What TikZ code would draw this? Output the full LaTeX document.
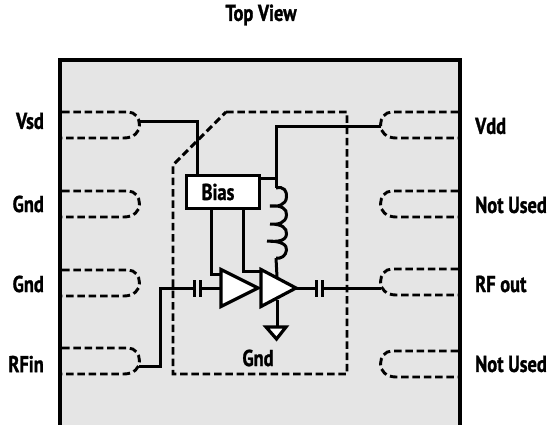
\documentclass[tikz,border=0pt]{standalone}
\usepackage{fontspec}
\setmainfont[BoldFont={PT Sans Bold},BoldFeatures={FakeStretch=0.8,FakeBold=1.2}]{PT Sans}
\definecolor{pkg}{HTML}{E5E5E5}
\tikzset{
  wire/.style={line width=3pt,line join=miter},
  dash line/.style={line width=2.9pt,dash pattern=on 7.5pt off 3.8pt},
  lbl/.style={font=\fontsize{23}{25}\selectfont\bfseries,inner sep=0pt},
  ll/.style={lbl,anchor=east},
  rl/.style={lbl,anchor=west},
  amp/.style={wire,fill=white,line width=3.2pt}
}
\newcommand{\leftpad}[1]{\draw[dash line] (62,#1) -- (128,#1) .. controls (135,#1) and (139.5,#1+6) .. (139.5,#1+13) .. controls (139.5,#1+20) and (134,#1+26) .. (124,#1+26) -- (62,#1+26);}
\newcommand{\rightpad}[1]{\draw[dash line] (458,#1) -- (392,#1) .. controls (385,#1) and (380.5,#1+6) .. (380.5,#1+13) .. controls (380.5,#1+20) and (386,#1+26) .. (396,#1+26) -- (458,#1+26);}
\begin{document}
\begin{tikzpicture}[x=1pt,y=-1pt]
\useasboundingbox (0,0) rectangle (552,425);
\fill[pkg] (60,60) rectangle (460,425);
\draw[line width=4pt] (60,425) -- (60,60) -- (460,60) -- (460,425);
% pads
\leftpad{112}\leftpad{191}\leftpad{270}\leftpad{348}
\rightpad{112}\rightpad{191}\rightpad{269}\rightpad{351}
% dashed outline
\draw[dash line] (226,112) -- (347,112) -- (347,374) -- (173,374) -- (173,165) -- cycle;
% coordinates
\coordinate (vsdpad) at (139,122);
\coordinate (vsdturn) at (197,122);
\coordinate (vddpad) at (381,127);
\coordinate (vddturn) at (276,127);
\coordinate (rfinpad) at (139,366);
\coordinate (rfinturn) at (160,366);
\coordinate (rfinup) at (160,288);
\coordinate (c1a) at (194,288);
\coordinate (c1b) at (200,288);
\coordinate (a1in) at (221,288);
\coordinate (a1tip) at (258,288);
\coordinate (a2in) at (261,288);
\coordinate (a2tip) at (296,288);
\coordinate (c2a) at (316,288);
\coordinate (c2b) at (322,288);
\coordinate (rfoutpad) at (381,288);
\coordinate (coiltop) at (276,188);
\coordinate (coilbot) at (276,258);
\coordinate (a2top) at (277,277);
\coordinate (a2bot) at (277,300);
\coordinate (gndtop) at (277,327);
% bias
\node[draw,wire,fill=white,minimum width=73pt,minimum height=33pt,inner sep=0pt] (bias) at (222.5,192) {};
\node[lbl] (biaslabel) at (218,192) {Bias};
% wires
\draw[wire] (vsdpad) -- (vsdturn) -- (vsdturn |- bias.north);
\draw[wire] (vddpad) -- (vddturn) -- (coiltop);
\draw[wire] (bias.east |- 0,179) -- (276,179);
\draw[wire] (rfinpad) -- (rfinturn) -- (rfinup) -- (c1a);
\draw[wire] (c1b) -- (a1in);
\draw[wire] (a2tip) -- (c2a);
\draw[wire] (c2b) -- (rfoutpad);
\draw[wire] (211,209) -- (211,274) -- (221,274);
\draw[wire] (243,209) -- (243,271) -- (261,271);
\draw[wire] (coilbot) -- (a2top);
\draw[wire] (a2bot) -- (gndtop);
% coil
\draw[wire] (coiltop) .. controls (284,186) and (287,191) .. (286.5,197)
  .. controls (286,205) and (278,207) .. (270,206)
  (270,206) .. controls (282,205) and (287,209) .. (286.5,215)
  .. controls (286,223) and (278,225) .. (270,224)
  (270,224) .. controls (282,224) and (287,228) .. (286.5,234)
  .. controls (286,241) and (278,242) .. (267,241)
  (267,241) .. controls (282,241) and (287,245) .. (286.5,250)
  .. controls (286,256) and (281,259) .. (276,258);
% caps
\draw[wire] (194,280) -- (194,297);
\draw[wire] (200,280) -- (200,297);
\draw[wire] (316,280) -- (316,297);
\draw[wire] (322,280) -- (322,297);
% amplifiers
\draw[amp] (221,269.5) -- (258,288) -- (221,306.5) -- cycle;
\draw[amp] (261,269.5) -- (296,288) -- (261,306.5) -- cycle;
% ground
\draw[amp] (266,327) -- (286,327) -- (276.5,339) -- cycle;
% labels
\node[lbl] (top) at (261,15) {Top View};
\node[ll] (l1) at (44,121) {Vsd};
\node[ll] (l2) at (44,204) {Gnd};
\node[ll] (l3) at (44,284) {Gnd};
\node[ll] (l4) at (44,364) {RFin};
\node[rl] (r1) at (475,126) {Vdd};
\node[rl] (r2) at (475,205) {Not Used};
\node[rl] (r3) at (475,284) {RF out};
\node[rl] (r4) at (475,364) {Not Used};
\node[lbl] (gnd) at (258,358) {Gnd};
\end{tikzpicture}
\end{document}
